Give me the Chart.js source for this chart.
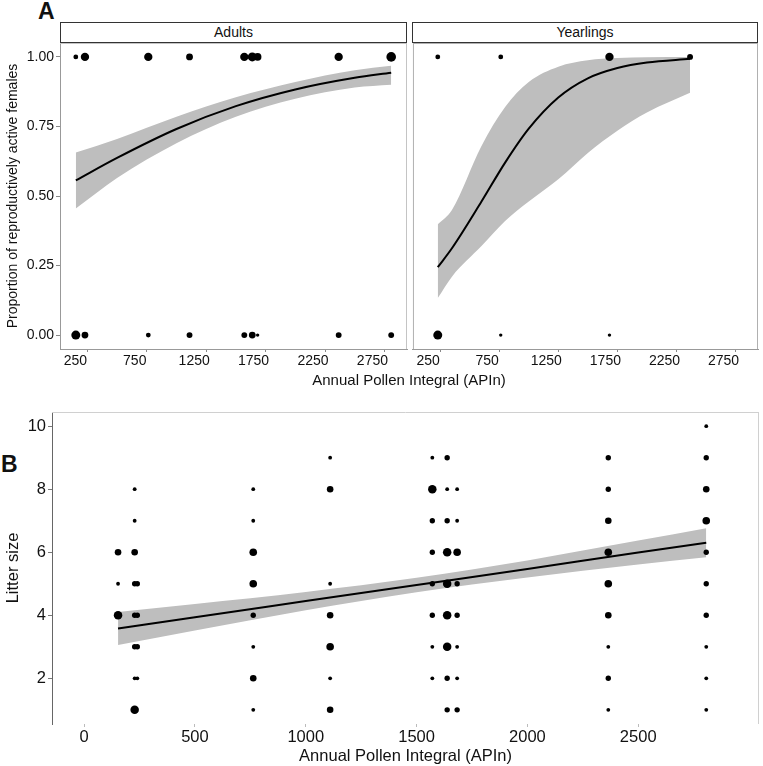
<!DOCTYPE html>
<html>
<head>
<meta charset="utf-8">
<script src="https://cdn.jsdelivr.net/npm/chart.js"></script>
<style>
  body { margin: 0; background: #fff; font-family: "Liberation Sans", Arial, sans-serif; color: #111; }
  #page { position: relative; width: 763px; height: 766px; overflow: hidden; }
  .pane { position: absolute; }
  .strip { position: absolute; top: 22px; height: 21px; box-sizing: border-box; border: 1px solid #333;
           background: #fff; text-align: center; font-size: 14px; line-height: 19px; }
  .tag { position: absolute; font-weight: bold; font-size: 23px; line-height: 23px; }
  .xtitle { position: absolute; text-align: center; font-size: 15px; }
</style>
</head>
<body>
<div id="page">
  <div class="tag" style="left:38px; top:0px;">A</div>
  <div class="strip" style="left:60px; width:347px;">Adults</div>
  <div class="strip" style="left:412px; width:346px;">Yearlings</div>
  <div class="pane" style="left:0; top:40px;"><canvas id="adultsChart" width="410" height="333"></canvas></div>
  <div class="pane" style="left:410px; top:40px;"><canvas id="yearlingsChart" width="353" height="333"></canvas></div>
  <div class="xtitle" style="left:60px; width:698px; top:371px;">Annual Pollen Integral (APIn)</div>
  <div class="tag" style="left:1px; top:453px;">B</div>
  <div class="pane" style="left:0; top:400px;"><canvas id="litterChart" width="763" height="366"></canvas></div>
</div>

<script>
// ---- panel A : adults (pollen value, females active / not active) ----
var adultX         = [153, 230, 763, 1110, 1571, 1638, 1683, 2365, 2807];
var adultActiveN   = [2, 6, 6, 4, 6, 7, 5, 6, 8];
var adultInactiveN = [7, 4, 2, 3, 3, 4, 1, 3, 3];
var adultFitX  = [153, 500, 1000, 1500, 2000, 2500, 2807];
var adultFit   = [0.556, 0.637, 0.741, 0.823, 0.883, 0.925, 0.943];
var adultLow   = [0.455, 0.565, 0.69, 0.785, 0.85, 0.89, 0.90];
var adultHigh  = [0.656, 0.705, 0.785, 0.855, 0.91, 0.952, 0.968];

// ---- panel A : yearlings ----
var yearX         = [230, 763, 1683, 2365];
var yearActiveN   = [2, 2, 6, 3];
var yearInactiveN = [7, 1, 1, 0];
var yearFitX  = [230, 350, 600, 800, 1000, 1250, 1500, 1750, 2000, 2365];
var yearFit   = [0.244, 0.312, 0.48, 0.62, 0.742, 0.854, 0.923, 0.96, 0.98, 0.993];
var yearLow   = [0.133, 0.21, 0.32, 0.41, 0.48, 0.56, 0.655, 0.735, 0.80, 0.871];
var yearHigh  = [0.398, 0.45, 0.68, 0.82, 0.91, 0.965, 0.988, 0.996, 0.999, 1.0];

var aTicksX = [250, 750, 1250, 1750, 2250, 2750];
var aTicksY = [0, 0.25, 0.5, 0.75, 1];

// ---- panel B : litter size vs pollen (x, litter size, number of litters) ----
var litterX = [153, 153, 153,
  228, 228, 228, 228, 228, 228, 228, 228,
  240, 240, 240, 240,
  763, 763, 763, 763, 763, 763, 763, 763,
  1110, 1110, 1110, 1110, 1110, 1110, 1110,
  1571, 1571, 1571, 1571, 1571, 1571, 1571, 1571,
  1638, 1638, 1638, 1638, 1638, 1638, 1638, 1638, 1638,
  1683, 1683, 1683, 1683, 1683, 1683, 1683, 1683,
  2365, 2365, 2365, 2365, 2365, 2365, 2365, 2365, 2365,
  2807, 2807, 2807, 2807, 2807, 2807, 2807, 2807, 2807, 2807];
var litterSize = [6, 5, 4,
  8, 7, 6, 5, 4, 3, 2, 1,
  5, 4, 3, 2,
  8, 7, 6, 5, 4, 3, 2, 1,
  9, 8, 5, 4, 3, 2, 1,
  9, 8, 7, 6, 5, 4, 3, 2,
  9, 8, 7, 6, 5, 4, 3, 2, 1,
  8, 7, 6, 5, 4, 3, 2, 1,
  9, 8, 7, 6, 5, 4, 3, 2, 1,
  10, 9, 8, 7, 6, 5, 4, 3, 2, 1];
var litterN = [3, 1, 5,
  1, 1, 3, 2, 2, 2, 1, 5,
  2, 2, 2, 1,
  1, 1, 4, 4, 2, 1, 3, 1,
  1, 3, 1, 3, 4, 1, 3,
  1, 5, 2, 2, 2, 2, 1, 1,
  2, 1, 2, 5, 5, 5, 5, 2, 2,
  1, 1, 4, 2, 2, 1, 1, 2,
  2, 2, 3, 4, 4, 3, 1, 2, 1,
  1, 2, 3, 4, 2, 2, 2, 1, 1, 1];
var litterFitX = [153, 500, 1000, 1500, 2000, 2500, 2807];
var litterFit  = [3.58, 3.94, 4.45, 4.96, 5.47, 5.99, 6.30];
var litterLow  = [3.06, 3.52, 4.16, 4.73, 5.20, 5.61, 5.84];
var litterHigh = [4.10, 4.36, 4.74, 5.19, 5.74, 6.37, 6.76];

var bTicksX = [0, 500, 1000, 1500, 2000, 2500];
var bTicksY = [2, 4, 6, 8, 10];
</script>

<script>
Chart.defaults.font.family = "'Liberation Sans', Arial, sans-serif";
Chart.defaults.color = '#111';
Chart.defaults.animation = false;

// light frame around a panel (only the requested sides)
var framePlugin = {
  id: 'frame',
  beforeDatasetsDraw: function (chart, args, o) {
    var a = chart.chartArea, c = chart.ctx;
    c.save();
    c.strokeStyle = o.color || '#bbb';
    c.lineWidth = 1;
    c.beginPath();
    if (o.top)    { c.moveTo(a.left, a.top + 0.5);    c.lineTo(a.right, a.top + 0.5); }
    if (o.right)  { c.moveTo(a.right - 0.5, a.top);   c.lineTo(a.right - 0.5, a.bottom); }
    if (o.left)   { c.moveTo(a.left + 0.5, a.top);    c.lineTo(a.left + 0.5, a.bottom); }
    if (o.bottom) { c.moveTo(a.left, a.bottom - 0.5); c.lineTo(a.right, a.bottom - 0.5); }
    c.stroke();
    c.restore();
  }
};

function zip(xs, ys) { return xs.map(function (x, i) { return { x: x, y: ys[i] }; }); }
function plain(v) { return String(v); }
function noPad(s) { s.paddingTop = 0; s.paddingBottom = 0; s.paddingLeft = 0; s.paddingRight = 0; }

function pointSet(pts, radii) {
  return { data: pts, showLine: false, pointRadius: radii, pointBackgroundColor: '#000',
           pointBorderWidth: 0, pointHoverRadius: radii };
}

function fitSets(fx, fit, low, high) {
  return [
    { data: zip(fx, fit), borderColor: '#000', borderWidth: 2, pointRadius: 0,
      cubicInterpolationMode: 'monotone', fill: false },
    { data: zip(fx, high), borderWidth: 0, pointRadius: 0, cubicInterpolationMode: 'monotone',
      fill: false, backgroundColor: '#bebebe' },
    { data: zip(fx, low), borderWidth: 0, pointRadius: 0, cubicInterpolationMode: 'monotone',
      fill: '-1', backgroundColor: '#bebebe' }
  ];
}

function binaryPoints(xs, nOn, nOff, k) {
  var pts = [], r = [];
  xs.forEach(function (x, i) {
    if (nOn[i] > 0) { pts.push({ x: x, y: 1 }); r.push(k * Math.sqrt(nOn[i])); }
    if (nOff[i] > 0) { pts.push({ x: x, y: 0 }); r.push(k * Math.sqrt(nOff[i])); }
  });
  return pointSet(pts, r);
}

function panelA(id, xs, nOn, nOff, fx, fit, low, high, showY) {
  return new Chart(document.getElementById(id), {
    type: 'line',
    data: { datasets: [binaryPoints(xs, nOn, nOff, 1.7)].concat(fitSets(fx, fit, low, high)) },
    options: {
      responsive: false,
      layout: { padding: showY ? { top: 3, right: 3 } : { top: 3, left: 2, right: 5 } },
      plugins: {
        legend: { display: false }, tooltip: { enabled: false },
        frame: showY ? { top: true, right: true, color: '#c4c4c4' }
                     : { top: true, right: true, left: true, color: '#b0b0b0' }
      },
      scales: {
        x: {
          type: 'linear', min: 20, max: 2940,
          afterBuildTicks: function (s) { s.ticks = aTicksX.map(function (v) { return { value: v }; }); },
          afterFit: function (s) { s.height = 24; noPad(s); },
          grid: { drawOnChartArea: false, tickLength: 3, color: '#888' },
          border: { color: '#999' },
          ticks: { autoSkip: false, maxRotation: 0, padding: 1, labelOffset: -12, font: { size: 14 },
                   callback: plain }
        },
        y: {
          display: showY, min: -0.05, max: 1.05,
          afterBuildTicks: function (s) { s.ticks = aTicksY.map(function (v) { return { value: v }; }); },
          afterFit: function (s) { s.width = showY ? 60 : 0; noPad(s); },
          grid: { drawOnChartArea: false, tickLength: 4, color: '#888' },
          border: { color: '#999' },
          ticks: { padding: 2, font: { size: 14 }, callback: function (v) { return v.toFixed(2); } },
          title: { display: true, text: 'Proportion of reproductively active females',
                   font: { size: 14 }, padding: { top: 5, bottom: 0 } }
        }
      }
    },
    plugins: [framePlugin]
  });
}

panelA('adultsChart', adultX, adultActiveN, adultInactiveN, adultFitX, adultFit, adultLow, adultHigh, true);
panelA('yearlingsChart', yearX, yearActiveN, yearInactiveN, yearFitX, yearFit, yearLow, yearHigh, false);

// panel B
new Chart(document.getElementById('litterChart'), {
  type: 'line',
  data: {
    datasets: [pointSet(zip(litterX, litterSize), litterN.map(function (n) { return 1.9 * Math.sqrt(n); }))]
      .concat(fitSets(litterFitX, litterFit, litterLow, litterHigh))
  },
  options: {
    responsive: false,
    layout: { padding: { top: 12, right: 4 } },
    plugins: {
      legend: { display: false }, tooltip: { enabled: false },
      frame: { top: true, right: true, color: '#d0d0d0' }
    },
    scales: {
      x: {
        type: 'linear', min: -145, max: 3045,
        afterBuildTicks: function (s) { s.ticks = bTicksX.map(function (v) { return { value: v }; }); },
        afterFit: function (s) { s.height = 42; noPad(s); },
        grid: { drawOnChartArea: false, tickLength: 3, color: '#bbb' },
        border: { display: false },
        ticks: { autoSkip: false, maxRotation: 0, padding: 1, font: { size: 16.5 }, callback: plain },
        title: { display: true, text: 'Annual Pollen Integral (APIn)', font: { size: 16.5 },
                 padding: { top: 0, bottom: 0 } }
      },
      y: {
        min: 0.55, max: 10.45,
        afterBuildTicks: function (s) { s.ticks = bTicksY.map(function (v) { return { value: v }; }); },
        afterFit: function (s) { s.width = 52; noPad(s); },
        grid: { drawOnChartArea: false, tickLength: 4, color: '#777' },
        border: { color: '#666' },
        ticks: { padding: 2, font: { size: 16.5 } },
        title: { display: true, text: 'Litter size', font: { size: 16.5 }, padding: { top: 4, bottom: 0 } }
      }
    }
  },
  plugins: [framePlugin]
});
</script>
</body>
</html>
